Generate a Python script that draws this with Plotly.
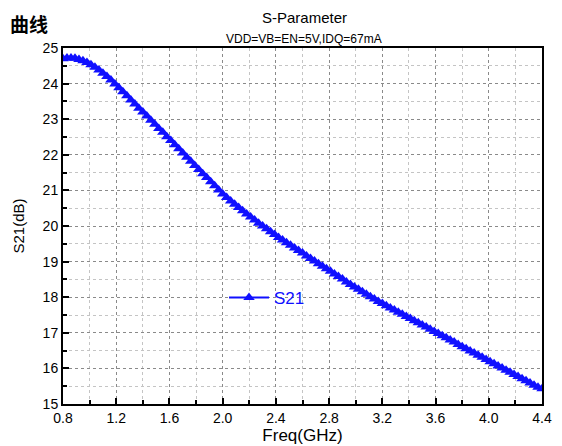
import plotly.graph_objects as go

freq = [round(0.80 + 0.03 * i, 2) for i in range(121)]
s21 = [
    24.70, 24.72, 24.72, 24.71, 24.68, 24.64, 24.59, 24.53, 24.46, 24.38,
    24.29, 24.20, 24.10, 23.99, 23.88, 23.77, 23.66, 23.54, 23.43, 23.31,
    23.20, 23.09, 22.97, 22.86, 22.74, 22.63, 22.51, 22.40, 22.28, 22.17,
    22.05, 21.93, 21.82, 21.70, 21.59, 21.47, 21.36, 21.24, 21.13, 21.01,
    20.90, 20.80, 20.70, 20.61, 20.52, 20.43, 20.34, 20.25, 20.17, 20.08,
    20.00, 19.92, 19.84, 19.76, 19.68, 19.61, 19.53, 19.46, 19.38, 19.31,
    19.24, 19.16, 19.09, 19.02, 18.94, 18.87, 18.80, 18.73, 18.65, 18.58,
    18.51, 18.43, 18.36, 18.29, 18.22, 18.15, 18.08, 18.01, 17.95, 17.88,
    17.82, 17.76, 17.70, 17.64, 17.58, 17.52, 17.46, 17.40, 17.34, 17.28,
    17.22, 17.16, 17.10, 17.04, 16.98, 16.92, 16.86, 16.80, 16.74, 16.67,
    16.61, 16.55, 16.49, 16.43, 16.37, 16.31, 16.25, 16.19, 16.13, 16.07,
    16.01, 15.95, 15.89, 15.83, 15.77, 15.71, 15.65, 15.59, 15.53, 15.47,
    15.43,
]
x_ticks = [0.8, 1.2, 1.6, 2.0, 2.4, 2.8, 3.2, 3.6, 4.0, 4.4]
y_ticks = [15, 16, 17, 18, 19, 20, 21, 22, 23, 24, 25]

BLUE = "#1010FF"
FONT = "Liberation Sans, Arial, sans-serif"

# page body has an 8px margin; work in screen pixels and shift
OFF = 8
W, H = 562 - OFF, 446 - OFF
L, T = 63 - OFF, 48 - OFF
R = W - (542 - OFF)
B = H - (404 - OFF)
pw, ph = W - L - R, H - T - B


def px(xs):
    return (xs - OFF - L) / pw


def py(ys):
    return (H - B - (ys - OFF)) / ph


fig = go.Figure()
fig.add_trace(go.Scatter(
    x=freq, y=s21, mode="lines+markers", name="S21",
    line=dict(color=BLUE, width=2),
    marker=dict(symbol="triangle-up", size=10, color=BLUE, line=dict(width=0)),
))

axis_common = dict(
    showline=True, linecolor="black", linewidth=2, mirror=True,
    ticks="inside", ticklen=6, tickwidth=2, tickcolor="black",
    showgrid=True, gridcolor="#8a8a8a", griddash="dot", gridwidth=1,
    zeroline=False, automargin=False,
    tickfont=dict(family=FONT, size=14, color="black"),
)

fig.update_xaxes(
    range=[0.8, 4.4], tickvals=x_ticks, ticktext=[f"{v:.1f}" for v in x_ticks],
    minor=dict(dtick=0.2, tick0=0.8, ticks="inside", ticklen=4, tickwidth=1.5,
               tickcolor="black", showgrid=True, gridcolor="#c4c4c4",
               griddash="dot", gridwidth=1),
    title=dict(text="Freq(GHz)", font=dict(family=FONT, size=17, color="black"),
               standoff=1),
    **axis_common,
)
fig.update_yaxes(
    range=[15, 25], tickvals=y_ticks,
    minor=dict(dtick=0.5, tick0=15, ticks="inside", ticklen=4, tickwidth=1.5,
               tickcolor="black", showgrid=True, gridcolor="#c4c4c4",
               griddash="dot", gridwidth=1),
    title=dict(text="S21(dB)", font=dict(family=FONT, size=15, color="black"),
               standoff=14),
    **axis_common,
)

fig.update_layout(
    width=W, height=H,
    margin=dict(l=L, r=R, t=T, b=B, pad=0),
    paper_bgcolor="white", plot_bgcolor="white",
    showlegend=True,
    legend=dict(x=px(224), y=py(298), xanchor="left", yanchor="middle",
                bgcolor="rgba(0,0,0,0)", borderwidth=0,
                font=dict(family=FONT, size=17, color=BLUE),
                itemwidth=40),
    annotations=[
        dict(text="S-Parameter", x=px(304), y=py(18), xref="paper", yref="paper",
             xanchor="center", yanchor="middle", showarrow=False,
             font=dict(family=FONT, size=15, color="black")),
        dict(text="VDD=VB=EN=5V,IDQ=67mA", x=px(304), y=py(39), xref="paper",
             yref="paper", xanchor="center", yanchor="middle", showarrow=False,
             font=dict(family=FONT, size=12, color="black")),
        dict(text="<b>曲线</b>", x=px(OFF), y=py(OFF), xref="paper", yref="paper",
             xanchor="left", yanchor="top", showarrow=False,
             font=dict(family="Noto Sans CJK SC", size=19, color="black")),
    ],
)

fig.write_html("out.html")
